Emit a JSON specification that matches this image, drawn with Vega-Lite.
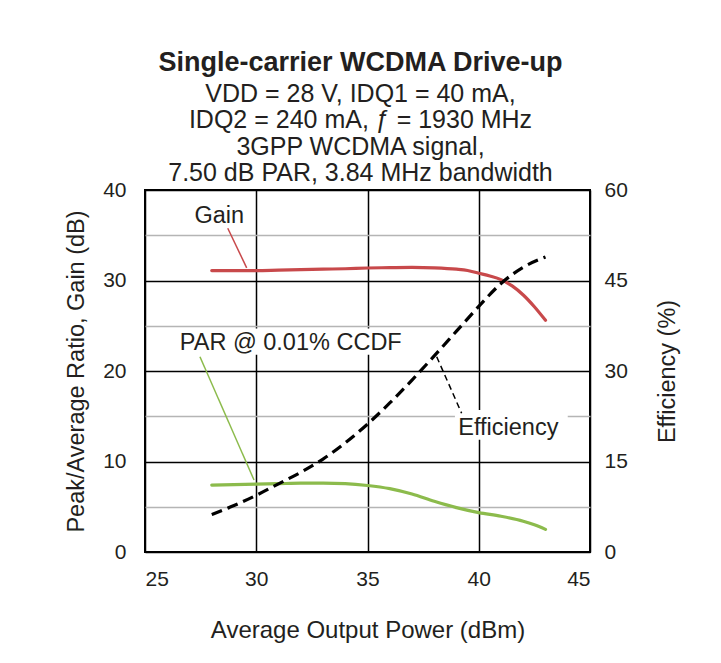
{
  "$schema": "https://vega.github.io/schema/vega-lite/v6.json",
  "width": 445,
  "height": 362,
  "autosize": {"type": "none"},
  "padding": {"left": 145, "top": 190, "right": 131, "bottom": 111},
  "background": "white",
  "config": {
    "font": "Liberation Sans",
    "view": {"stroke": "black", "strokeWidth": 2},
    "axis": {"labelColor": "#231f20", "titleColor": "#231f20", "labelFont": "Liberation Sans", "titleFont": "Liberation Sans", "titleFontWeight": "normal"}
  },
  "title": {
    "text": "Single-carrier WCDMA Drive-up",
    "subtitle": ["VDD = 28 V, IDQ1 = 40 mA,", "IDQ2 = 240 mA, ƒ = 1930 MHz", "3GPP WCDMA signal,", "7.50 dB PAR, 3.84 MHz bandwidth"],
    "font": "Liberation Sans",
    "subtitleFont": "Liberation Sans",
    "fontSize": 27,
    "fontWeight": "bold",
    "subtitleFontSize": 25,
    "subtitleLineHeight": 26.5,
    "subtitlePadding": 5,
    "color": "#231f20",
    "subtitleColor": "#231f20",
    "anchor": "middle",
    "frame": "group",
    "offset": -8,
    "dx": -7
  },
  "datasets": {
    "curves": [
      {"series": "Gain", "power": 28, "dB": 31.1},
      {"series": "Gain", "power": 29, "dB": 31.1},
      {"series": "Gain", "power": 30, "dB": 31.1},
      {"series": "Gain", "power": 31, "dB": 31.15},
      {"series": "Gain", "power": 32, "dB": 31.2},
      {"series": "Gain", "power": 33, "dB": 31.25},
      {"series": "Gain", "power": 34, "dB": 31.3},
      {"series": "Gain", "power": 35, "dB": 31.38},
      {"series": "Gain", "power": 36, "dB": 31.42},
      {"series": "Gain", "power": 37, "dB": 31.45},
      {"series": "Gain", "power": 38, "dB": 31.4},
      {"series": "Gain", "power": 39, "dB": 31.25},
      {"series": "Gain", "power": 39.5, "dB": 31.1},
      {"series": "Gain", "power": 40, "dB": 30.8},
      {"series": "Gain", "power": 40.5, "dB": 30.5},
      {"series": "Gain", "power": 41, "dB": 30.1},
      {"series": "Gain", "power": 41.5, "dB": 29.4},
      {"series": "Gain", "power": 42, "dB": 28.4},
      {"series": "Gain", "power": 42.5, "dB": 27.1},
      {"series": "Gain", "power": 43, "dB": 25.6},
      {"series": "PAR", "power": 28, "dB": 7.4},
      {"series": "PAR", "power": 29, "dB": 7.45},
      {"series": "PAR", "power": 30, "dB": 7.5},
      {"series": "PAR", "power": 31, "dB": 7.55},
      {"series": "PAR", "power": 32, "dB": 7.6},
      {"series": "PAR", "power": 33, "dB": 7.6},
      {"series": "PAR", "power": 34, "dB": 7.55},
      {"series": "PAR", "power": 35, "dB": 7.35},
      {"series": "PAR", "power": 36, "dB": 7.0},
      {"series": "PAR", "power": 37, "dB": 6.4},
      {"series": "PAR", "power": 38, "dB": 5.6},
      {"series": "PAR", "power": 39, "dB": 4.9},
      {"series": "PAR", "power": 40, "dB": 4.35},
      {"series": "PAR", "power": 41, "dB": 3.95},
      {"series": "PAR", "power": 42, "dB": 3.4},
      {"series": "PAR", "power": 42.5, "dB": 3.0},
      {"series": "PAR", "power": 43, "dB": 2.5}
    ],
    "efficiency": [
      {"power": 28, "eff": 6.2},
      {"power": 29, "eff": 7.7},
      {"power": 30, "eff": 9.4},
      {"power": 31, "eff": 11.3},
      {"power": 32, "eff": 13.2},
      {"power": 33, "eff": 15.4},
      {"power": 34, "eff": 18.1},
      {"power": 35, "eff": 21.2},
      {"power": 36, "eff": 24.7},
      {"power": 37, "eff": 28.5},
      {"power": 38, "eff": 32.5},
      {"power": 39, "eff": 36.6},
      {"power": 40, "eff": 40.7},
      {"power": 41, "eff": 44.5},
      {"power": 42, "eff": 47.2},
      {"power": 43, "eff": 48.9}
    ],
    "boxes": [
      {"x1": 26.4, "x2": 36.7, "y1": 21.8, "y2": 24.7},
      {"x1": 38.93, "x2": 44.0, "y1": 12.4, "y2": 15.7}
    ],
    "leaders": [
      {"label": "Gain", "x1": 28.72, "y1": 35.77, "x2": 29.57, "y2": 31.4},
      {"label": "PAR", "x1": 27.47, "y1": 21.58, "x2": 29.9, "y2": 7.96}
    ],
    "effLeader": [
      {"x1": 38.11, "y1": 21.58, "x2": 39.23, "y2": 15.33}
    ],
    "notes": [
      {"text": "Gain", "x": 28.34, "y": 36.3},
      {"text": "PAR @ 0.01% CCDF", "x": 31.55, "y": 22.3},
      {"text": "Efficiency", "x": 41.33, "y": 12.93}
    ]
  },
  "layer": [
    {
      "layer": [
        {
          "data": {"name": "boxes"},
          "mark": {"type": "rect", "fill": "white"},
          "encoding": {
            "x": {"field": "x1", "type": "quantitative", "scale": {"domain": [25, 45], "nice": false, "zero": false}},
            "x2": {"field": "x2"},
            "y": {"field": "y1", "type": "quantitative", "scale": {"domain": [0, 40], "nice": false}},
            "y2": {"field": "y2"}
          }
        },
        {
          "data": {"name": "leaders"},
          "mark": {"type": "rule", "strokeWidth": 1.5},
          "encoding": {
            "x": {"field": "x1", "type": "quantitative", "scale": {"domain": [25, 45], "nice": false, "zero": false}},
            "x2": {"field": "x2"},
            "y": {"field": "y1", "type": "quantitative", "scale": {"domain": [0, 40], "nice": false}},
            "y2": {"field": "y2"},
            "color": {"field": "label", "type": "nominal", "scale": {"domain": ["Gain", "PAR"], "range": ["#c8494b", "#8cbb4c"]}, "legend": null}
          }
        },
        {
          "data": {"name": "effLeader"},
          "mark": {"type": "rule", "strokeWidth": 1.5, "strokeDash": [6, 4], "color": "black"},
          "encoding": {
            "x": {"field": "x1", "type": "quantitative", "scale": {"domain": [25, 45], "nice": false, "zero": false}},
            "x2": {"field": "x2"},
            "y": {"field": "y1", "type": "quantitative", "scale": {"domain": [0, 40], "nice": false}},
            "y2": {"field": "y2"}
          }
        },
        {
          "data": {"name": "curves"},
          "mark": {"type": "line", "strokeWidth": 3.2, "interpolate": "monotone", "strokeCap": "round"},
          "encoding": {
            "x": {
              "field": "power", "type": "quantitative",
              "scale": {"domain": [25, 45], "nice": false, "zero": false},
              "axis": {
                "values": [25, 30, 35, 40, 45],
                "title": "Average Output Power (dBm)",
                "titleFontSize": 24,
                "titlePadding": 29,
                "labelFontSize": 21,
                "labelPadding": 16,
                "ticks": false,
                "tickSize": 0,
                "domain": false,
                "grid": true,
                "gridColor": "black",
                "gridWidth": 1.5,
                "gridOpacity": 1
              }
            },
            "y": {
              "field": "dB", "type": "quantitative",
              "scale": {"domain": [0, 40], "nice": false},
              "axis": {
                "values": [0, 5, 10, 15, 20, 25, 30, 35, 40],
                "labelExpr": "datum.value % 10 === 0 ? datum.label : ''",
                "title": "Peak/Average Ratio, Gain (dB)",
                "titleFontSize": 23.5,
                "titlePadding": 14,
                "labelFontSize": 21,
                "labelPadding": 19,
                "ticks": false,
                "tickSize": 0,
                "domain": false,
                "grid": true,
                "gridWidth": 1.5,
                "gridOpacity": 1,
                "gridColor": {"condition": {"test": "datum.value % 10 === 0", "value": "black"}, "value": "#b5b5b5"}
              }
            },
            "color": {"field": "series", "type": "nominal", "scale": {"domain": ["Gain", "PAR"], "range": ["#c8494b", "#8cbb4c"]}, "legend": null}
          }
        },
        {
          "data": {"name": "notes"},
          "mark": {"type": "text", "font": "Liberation Sans", "fontSize": 23.5, "color": "#231f20", "align": "center", "baseline": "alphabetic"},
          "encoding": {
            "x": {"field": "x", "type": "quantitative", "scale": {"domain": [25, 45], "nice": false, "zero": false}},
            "y": {"field": "y", "type": "quantitative", "scale": {"domain": [0, 40], "nice": false}},
            "text": {"field": "text"}
          }
        }
      ]
    },
    {
      "data": {"name": "efficiency"},
      "mark": {"type": "line", "strokeWidth": 3.2, "interpolate": "monotone", "strokeDash": [11, 6], "color": "black"},
      "encoding": {
        "x": {"field": "power", "type": "quantitative", "scale": {"domain": [25, 45], "nice": false, "zero": false}},
        "y": {
          "field": "eff", "type": "quantitative",
          "scale": {"domain": [0, 60], "nice": false},
          "axis": {
            "orient": "right",
            "values": [0, 15, 30, 45, 60],
            "title": "Efficiency (%)",
            "titleFontSize": 23.5,
            "titleAngle": 270,
            "titlePadding": 52,
            "labelFontSize": 21,
            "labelPadding": 14,
            "ticks": false,
            "tickSize": 0,
            "domain": false,
            "grid": false
          }
        }
      }
    }
  ],
  "resolve": {"scale": {"y": "independent", "color": "shared"}}
}
